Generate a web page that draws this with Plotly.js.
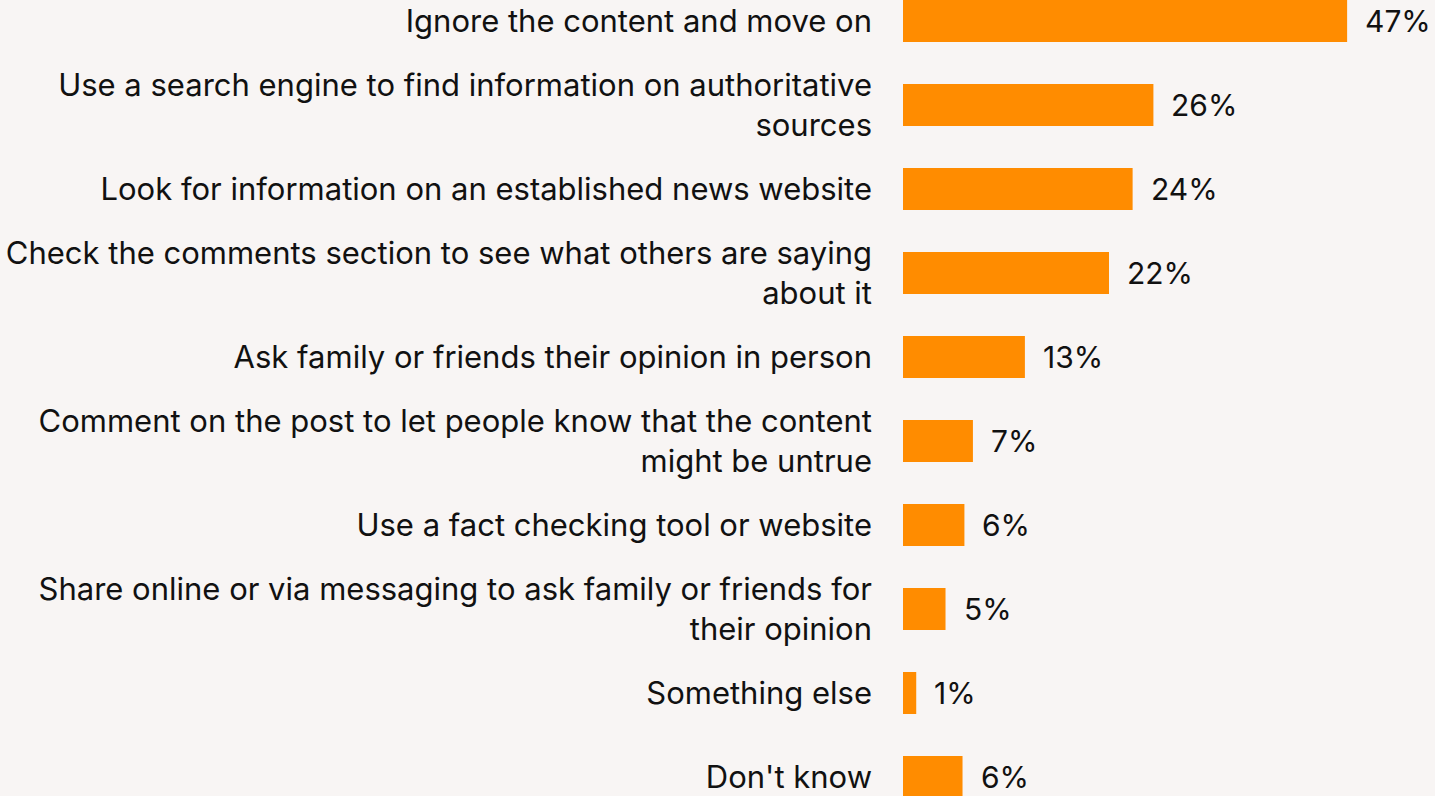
<!DOCTYPE html>
<html>
<head>
<meta charset="utf-8">
<script src="https://cdn.plot.ly/plotly-3.0.1.min.js"></script>
<style>html,body{margin:0;padding:0;background:#f8f5f4;}#chart{width:1435px;height:796px;}</style>
</head>
<body>
<div id="chart"></div>
<script>
const categories = [
  "Ignore the content and move on",
  "Use a search engine to find information on authoritative<br>sources",
  "Look for information on an established news website",
  "Check the comments section to see what others are saying<br>about it",
  "Ask family or friends their opinion in person",
  "Comment on the post to let people know that the content<br>might be untrue",
  "Use a fact checking tool or website",
  "Share online or via messaging to ask family or friends for<br>their opinion",
  "Something else",
  "Don't know"
];
const values = [47, 26.5, 24.3, 21.8, 12.9, 7.4, 6.5, 4.5, 1.4, 6.3];
const valueLabels = ["47%", "26%", "24%", "22%", "13%", "7%", "6%", "5%", "1%", "6%"];

const FONT = "Inter, 'Noto Sans', sans-serif";
const idx = categories.map((c, i) => i);

const trace = {
  type: 'bar',
  orientation: 'h',
  x: values,
  y: idx,
  width: 0.5,
  marker: {color: '#ff8c00', line: {width: 0}},
  hoverinfo: 'none'
};

const annotations = values.map((v, i) => ({
  x: v, y: i, xref: 'x', yref: 'y',
  text: valueLabels[i], showarrow: false,
  xanchor: 'left', yanchor: 'middle', xshift: 16,
  font: {family: FONT, size: 30, color: '#111111'}
}));

const layout = {
  width: 1435, height: 796,
  margin: {l: 903, r: 0, t: 0, b: 0, pad: 0},
  paper_bgcolor: '#f8f5f4',
  plot_bgcolor: '#f8f5f4',
  showlegend: false,
  bargap: 0.5,
  xaxis: {range: [0, 56.3], visible: false, fixedrange: true},
  yaxis: {
    range: [9.226, -0.25],
    tickmode: 'array', tickvals: idx, ticktext: categories,
    showgrid: false, zeroline: false, showline: false, ticks: '',
    ticklabelstandoff: 30,
    tickfont: {family: FONT, size: 31, color: '#111111'},
    fixedrange: true
  },
  annotations: annotations
};

Plotly.newPlot('chart', [trace], layout, {displayModeBar: false, staticPlot: true});
</script>
</body>
</html>
